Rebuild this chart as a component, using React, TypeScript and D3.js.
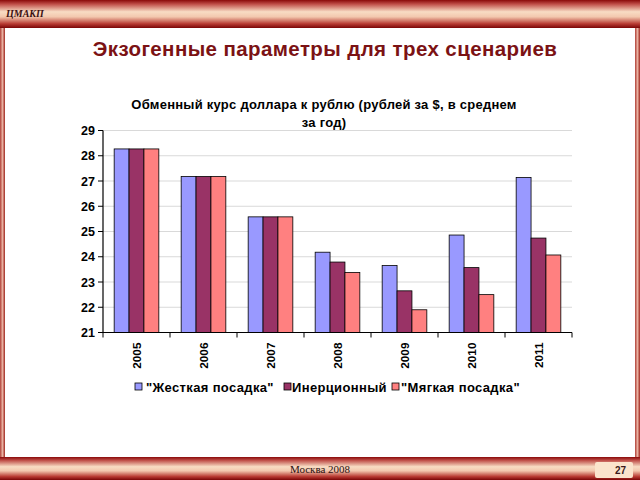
import React from "react";
import * as d3 from "d3";

const years = ["2005", "2006", "2007", "2008", "2009", "2010", "2011"];
const seriesNames = ["\"Жесткая посадка\"", "Инерционный", "\"Мягкая посадка\""];
const hardLanding = [28.27, 27.18, 25.58, 24.18, 23.65, 24.86, 27.14];
const inertial = [28.27, 27.18, 25.58, 23.79, 22.65, 23.57, 24.74];
const softLanding = [28.27, 27.18, 25.58, 23.38, 21.9, 22.5, 24.07];
const seriesColors = ["#9999FF", "#993366", "#FF8080"];
const yTicks = [21, 22, 23, 24, 25, 26, 27, 28, 29];

const W = 640;
const H = 480;
const plot = { left: 103, right: 572, top: 130.5, bottom: 332.5 };

export default function App() {
  const allSeries = [hardLanding, inertial, softLanding];
  const x = d3.scaleBand<string>().domain(years).range([plot.left, plot.right]).paddingInner(0).paddingOuter(0);
  const catW = x.bandwidth();
  const barW = catW / 4.5;
  const gap = catW - 3 * barW;
  const y = d3.scaleLinear().domain([21, 29]).range([plot.bottom, plot.top]);
  const font = "Arial, 'Liberation Sans', sans-serif";

  return (
    <svg width={W} height={H} style={{ position: "absolute", left: 0, top: 0, background: "#fff" }}>
      <defs>
        <linearGradient id="band" x1="0" y1="0" x2="0" y2="1">
          <stop offset="0" stopColor="#8a0a0a" />
          <stop offset="0.15" stopColor="#c0504a" />
          <stop offset="0.42" stopColor="#f8dcc4" />
          <stop offset="0.6" stopColor="#f3c8ae" />
          <stop offset="0.85" stopColor="#b83a32" />
          <stop offset="1" stopColor="#7a0606" />
        </linearGradient>
        <linearGradient id="side" x1="0" y1="0" x2="1" y2="0">
          <stop offset="0" stopColor="#b04038" />
          <stop offset="0.5" stopColor="#e8b0a0" />
          <stop offset="1" stopColor="#a02820" />
        </linearGradient>
      </defs>
      <rect x={0} y={0} width={W} height={H} fill="#fff" />
      {/* frame */}
      <rect x={0} y={26} width={5} height={432} fill="url(#side)" />
      <rect x={635} y={26} width={5} height={432} fill="url(#side)" />
      <rect x={0} y={0} width={W} height={28} fill="url(#band)" />
      <rect x={0} y={457} width={W} height={23} fill="url(#band)" />
      <text x={6} y={17} fontFamily="'Liberation Serif', 'DejaVu Serif', serif" fontStyle="italic" fontWeight="bold" fontSize={10} fill="#3a1010">ЦМАКП</text>
      <text x={320} y={473} textAnchor="middle" fontFamily="'Liberation Serif', serif" fontSize={11} fill="#2a1010">Москва 2008</text>
      <rect x={595} y={462} width={38} height={16} rx={2} fill="#fbe4cc" />
      <text x={626} y={474} textAnchor="end" fontFamily={font} fontWeight="bold" fontSize={10} fill="#3a1a1a">27</text>

      {/* main title */}
      <text x={325} y={55.5} textAnchor="middle" fontFamily={font} fontWeight="bold" fontSize={20.5} letterSpacing={0.4} fill="#7b1214">Экзогенные параметры для трех сценариев</text>

      {/* chart title */}
      <text x={324} y={109} textAnchor="middle" fontFamily={font} fontWeight="bold" fontSize={13} letterSpacing={0.25} fill="#000">Обменный курс доллара к рублю (рублей за $, в среднем</text>
      <text x={324} y={127} textAnchor="middle" fontFamily={font} fontWeight="bold" fontSize={13} letterSpacing={0.25} fill="#000">за год)</text>

      {/* gridlines */}
      {yTicks.slice(1).map((t) => (
        <line key={"g" + t} x1={plot.left} x2={plot.right} y1={y(t)} y2={y(t)} stroke="#d9d9d9" strokeWidth={1} />
      ))}

      {/* bars */}
      {allSeries.map((vals, si) =>
        vals.map((v, i) => {
          const bx = (x(years[i]) as number) + gap / 2 + si * barW;
          return (
            <rect key={`b${si}-${i}`} x={bx} y={y(v)} width={barW} height={y(21) - y(v)} fill={seriesColors[si]} stroke="#000" strokeWidth={0.8} />
          );
        })
      )}

      {/* y axis */}
      <line x1={plot.left} x2={plot.left} y1={plot.top} y2={plot.bottom} stroke="#000" strokeWidth={1.2} />
      {yTicks.map((t) => (
        <g key={"y" + t}>
          <line x1={plot.left - 5} x2={plot.left} y1={y(t)} y2={y(t)} stroke="#000" strokeWidth={1} />
          <text x={95} y={y(t) + 4.5} textAnchor="end" fontFamily={font} fontWeight="bold" fontSize={12.5} fill="#000">{t}</text>
        </g>
      ))}

      {/* x axis */}
      <line x1={plot.left} x2={plot.right} y1={plot.bottom} y2={plot.bottom} stroke="#000" strokeWidth={1.2} />
      {years.map((yr, i) => (
        <line key={"xt" + i} x1={x(yr) as number} x2={x(yr) as number} y1={plot.bottom} y2={plot.bottom + 5} stroke="#000" />
      ))}
      <line x1={plot.right} x2={plot.right} y1={plot.bottom} y2={plot.bottom + 5} stroke="#000" />
      {years.map((yr) => {
        const cx = (x(yr) as number) + catW / 2 + 4.5;
        return (
          <text key={"xl" + yr} transform={`translate(${cx},${plot.bottom + 10}) rotate(-90)`} textAnchor="end" fontFamily={font} fontWeight="bold" fontSize={11.8} fill="#000">{yr}</text>
        );
      })}

      {/* legend */}
      {[
        { mx: 135, tx: 146 },
        { mx: 284, tx: 292 },
        { mx: 392, tx: 401 },
      ].map((p, i) => (
        <g key={"lg" + i}>
          <rect x={p.mx} y={383} width={7} height={7} fill={seriesColors[i]} stroke="#000" strokeWidth={0.8} />
          <text x={p.tx} y={391.5} fontFamily={font} fontWeight="bold" fontSize={13} letterSpacing={0.35} fill="#000">{seriesNames[i]}</text>
        </g>
      ))}
    </svg>
  );
}
